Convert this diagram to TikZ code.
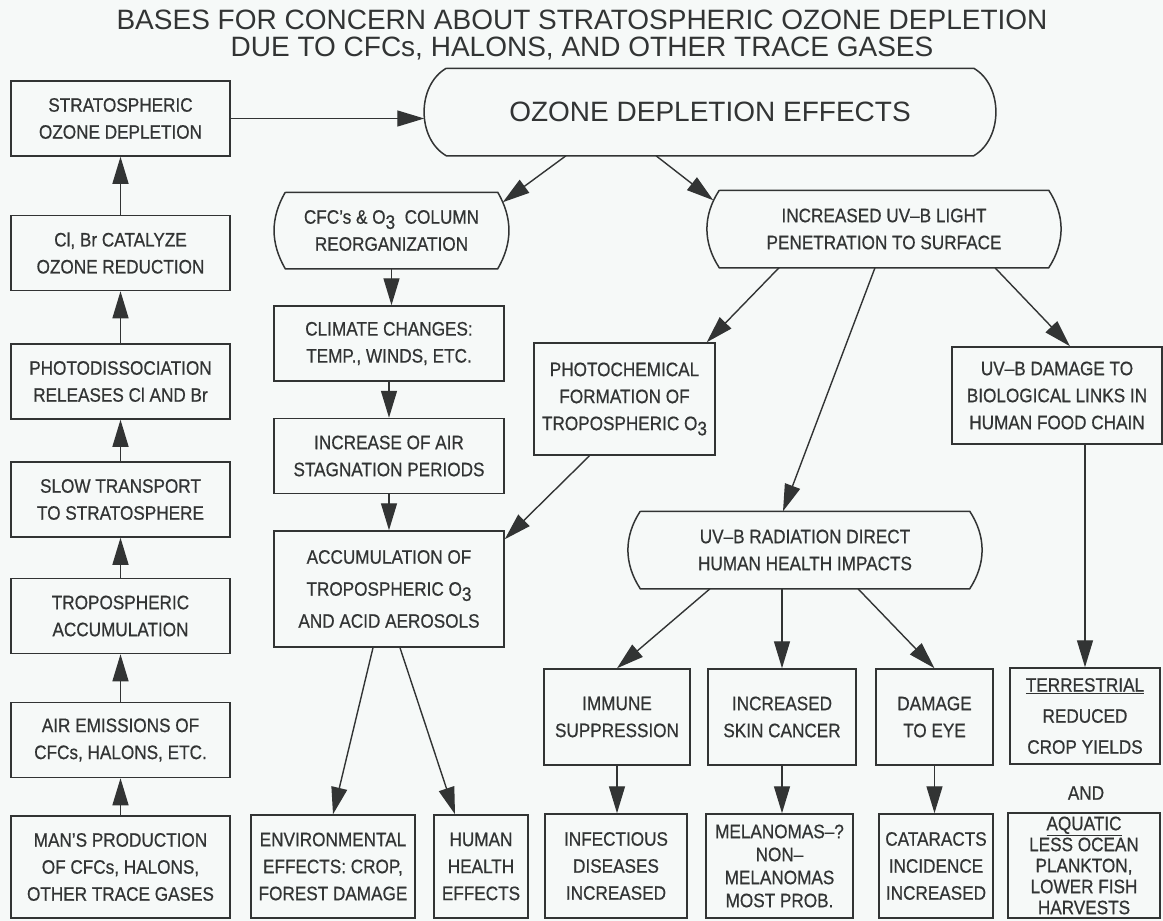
\documentclass[tikz,border=0pt]{standalone}
\usepackage{fontspec}
\setmainfont{Liberation Sans}
\newfontfamily\boxfont{Liberation Sans}[Ligatures=TeX, FakeStretch=0.88, FakeBold=0.6]
\usetikzlibrary{arrows.meta}
\definecolor{ink}{RGB}{50,52,52}
\definecolor{paper}{RGB}{246,249,248}
\newcommand{\Othree}{O\raisebox{-0.5ex}{3}}

\begin{document}
\begin{tikzpicture}[x=1pt, y=-1pt, >={Triangle[length=27pt,width=16pt]},
        every node/.style={text=ink},
        effect/.style={draw=ink, line width=1.5pt, align=center, inner sep=2pt, font=\boxfont\fontsize{19.5}{27}\selectfont},
        leftbox/.style={effect, minimum width=219pt, minimum height=75pt},
        midbox/.style={effect, minimum width=230pt, minimum height=75pt},
        bulged/.style={effect, draw=none},
        link/.style={->, draw=ink, line width=1.4pt}]
    \fill[paper] (0,0) rectangle (1163,921);
    \useasboundingbox (0,0) rectangle (1163,921);
    \node[align=center, font=\fontsize{28}{27}\selectfont] (title) at (582,35) {BASES FOR CONCERN ABOUT STRATOSPHERIC OZONE DEPLETION\\DUE TO CFCs, HALONS, AND OTHER TRACE GASES};
    % left column, read bottom to top
    \node[leftbox] (strat) at (120.5,118.5) {STRATOSPHERIC\\OZONE DEPLETION};
    \node[leftbox] (catalyze) at (120.5,253) {Cl, Br CATALYZE\\OZONE REDUCTION};
    \node[leftbox] (photodiss) at (120.5,381.5) {PHOTODISSOCIATION\\RELEASES Cl AND Br};
    \node[leftbox] (slow) at (120.5,499.5) {SLOW TRANSPORT\\TO STRATOSPHERE};
    \node[leftbox] (tropacc) at (120.5,616) {TROPOSPHERIC\\ACCUMULATION};
    \node[leftbox] (emission) at (120.5,740) {AIR EMISSIONS OF\\CFCs, HALONS, ETC.};
    \node[leftbox, minimum height=102pt] (production) at (120.5,867) {MAN'S PRODUCTION\\OF CFCs, HALONS,\\OTHER TRACE GASES};
    % effects
    \node[bulged, minimum width=570pt, minimum height=86pt, font=\fontsize{28}{30}\selectfont] (effects) at (710,112) {OZONE DEPLETION EFFECTS};
    \node[bulged, minimum width=233pt, minimum height=75pt] (column) at (391.5,230.5) {CFC's \& \Othree\ \ COLUMN\\REORGANIZATION};
    \node[bulged, minimum width=352pt, minimum height=76pt] (uvb) at (884,229) {INCREASED UV--B LIGHT\\PENETRATION TO SURFACE};
    \node[midbox] (climate) at (389,343.5) {CLIMATE CHANGES:\\TEMP., WINDS, ETC.};
    \node[midbox] (stagnation) at (389,456) {INCREASE OF AIR\\STAGNATION PERIODS};
    \node[midbox, minimum height=116pt, font=\boxfont\fontsize{19.5}{32}\selectfont] (accum) at (389,589) {ACCUMULATION OF\\TROPOSPHERIC \Othree\\AND ACID AEROSOLS};
    \node[effect, minimum width=164pt, minimum height=103pt] (environment) at (333,866.5) {ENVIRONMENTAL\\EFFECTS: CROP,\\FOREST DAMAGE};
    \node[effect, minimum width=94pt, minimum height=103pt] (human) at (481,866.5) {HUMAN\\HEALTH\\EFFECTS};
    \node[effect, minimum width=181pt, minimum height=112pt] (photochem) at (624.5,399) {PHOTOCHEMICAL\\FORMATION OF\\TROPOSPHERIC \Othree};
    \node[effect, minimum width=210pt, minimum height=97pt] (foodchain) at (1057,395.5) {UV--B DAMAGE TO\\BIOLOGICAL LINKS IN\\HUMAN FOOD CHAIN};
    \node[bulged, minimum width=352pt, minimum height=76pt] (direct) at (805,550) {UV--B RADIATION DIRECT\\HUMAN HEALTH IMPACTS};
    \node[effect, minimum width=146pt, minimum height=96pt] (immune) at (617,717) {IMMUNE\\SUPPRESSION};
    \node[effect, minimum width=148pt, minimum height=96pt] (skin) at (782,717) {INCREASED\\SKIN CANCER};
    \node[effect, minimum width=117pt, minimum height=96pt] (eye) at (934.5,717) {DAMAGE\\TO EYE};
    \node[effect, minimum width=150pt, minimum height=96pt, font=\boxfont\fontsize{19.5}{31}\selectfont] (terrestrial) at (1085,716) {\underline{TERRESTRIAL}\\REDUCED\\CROP YIELDS};
    \node[font=\boxfont\fontsize{19.5}{27}\selectfont] (and) at (1086,793) {AND};
    \node[effect, minimum width=142pt, minimum height=104pt] (infectious) at (616,866) {INFECTIOUS\\DISEASES\\INCREASED};
    \node[effect, minimum width=147pt, minimum height=104pt, font=\boxfont\fontsize{19.5}{23}\selectfont] (melanoma) at (779.5,866) {MELANOMAS--?\\NON--\\MELANOMAS\\MOST PROB.};
    \node[effect, minimum width=114pt, minimum height=104pt] (cataract) at (936,866) {CATARACTS\\INCIDENCE\\INCREASED};
    \node[effect, minimum width=152pt, minimum height=105pt, font=\boxfont\fontsize{19.5}{21}\selectfont] (aquatic) at (1084,865.5) {\underline{AQUATIC}\\LESS OCEAN\\PLANKTON,\\LOWER FISH\\HARVESTS};
    % curved sides
    \foreach \n/\b/\a in {effects/22/60, column/11/30, uvb/12/33, direct/12/33}
        \draw[draw=ink, line width=1.5pt] ([xshift=\b pt]\n.north west) -- ([xshift=-\b pt]\n.north east)
            to[bend left=\a] ([xshift=-\b pt]\n.south east) -- ([xshift=\b pt]\n.south west)
            to[bend left=\a] ([xshift=\b pt]\n.north west);
    % connectors
    \foreach \a/\b in {production/emission, emission/tropacc, tropacc/slow, slow/photodiss, photodiss/catalyze, catalyze/strat}
        \draw[link] (\a.north) -- (\a.north |- \b.south);
    \foreach \a/\b in {column/climate, climate/stagnation, stagnation/accum, immune/infectious, skin/melanoma, eye/cataract}
        \draw[link] (\a.south) -- (\a.south |- \b.north);
    \draw[link] (strat.east) -- (strat.east -| effects.west);
    \draw[link] ([xshift=-144pt]effects.south) -- ([shift={(-6pt,-10pt)}]column.north east);
    \draw[link] ([xshift=-54pt]effects.south) -- ([shift={(6pt,-10pt)}]uvb.north west);
    \draw[link] ([xshift=-105pt]uvb.south) -- ([xshift=-9pt]photochem.north east);
    \draw[link] ([xshift=-9pt]uvb.south) -- ([xshift=-22pt]direct.north);
    \draw[link] ([xshift=111pt]uvb.south) -- ([xshift=13pt]foodchain.north);
    \draw[link] ([xshift=-35pt]photochem.south) -- ([yshift=-9pt]accum.north east);
    \draw[link] ([xshift=-16pt]accum.south) -- (environment.north);
    \draw[link] ([xshift=11pt]accum.south) -- ([xshift=-26pt]human.north);
    \draw[link] ([xshift=-95pt]direct.south) -- (immune.north);
    \draw[link] (skin.north |- direct.south) -- (skin.north);
    \draw[link] ([xshift=53pt]direct.south) -- (eye.north);
    \draw[link] (terrestrial.north |- foodchain.south) -- (terrestrial.north);
\end{tikzpicture}
\end{document}
